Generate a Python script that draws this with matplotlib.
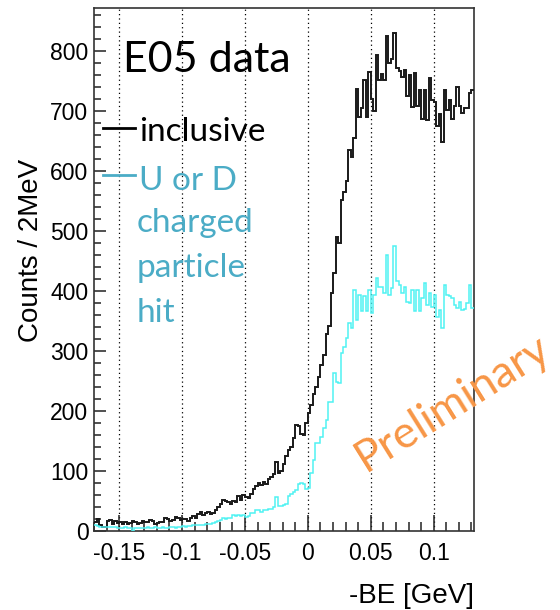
import numpy as np
import matplotlib
matplotlib.use("Agg")
import matplotlib.pyplot as plt
from matplotlib.lines import Line2D
from matplotlib.ticker import MultipleLocator

# 2 MeV bins in -BE, starting at -0.17 GeV
bin_lo = -0.17
bin_w = 0.002

inclusive = [14, 19, 10, 7, 6, 17, 18, 11, 16, 13, 14, 12, 15, 11, 13, 16, 14, 12, 13, 17,
             15, 14, 18, 17, 11, 13, 15, 14, 21, 19, 17, 18, 23, 22, 18,
             19, 20, 17, 22, 24, 22, 28, 31, 26, 30, 32, 28, 30, 34, 40, 45, 52, 50, 48, 44,
             50, 48, 58, 52, 60,
             57, 54, 62, 70, 74, 80, 76, 82, 78, 86, 90, 94, 115, 96, 100, 112, 125, 135, 140, 155,
             176, 174, 162, 160, 179,
             196, 210, 229, 240, 257, 277, 293, 329, 341, 396, 430, 491, 480, 552, 566, 583, 636,
             624, 655, 738, 691,
             705, 753, 691, 765, 720, 700, 794, 753, 762, 753, 826, 780, 788, 831, 772, 768, 757,
             769, 726, 760, 707, 764, 709, 736, 688, 736, 686, 755, 719, 716, 675, 695, 649, 736,
             703, 719, 687, 709, 741, 709, 698, 706, 706, 731, 736]

charged = [9, 8, 7, 6, 7, 6, 6, 7, 6, 5, 5, 5, 6, 5, 5, 0, 5, 5, 4, 5,
           5, 6, 5, 5, 6, 5, 4, 6, 5, 5, 7, 6, 5, 6, 7, 8, 7, 8, 8, 9,
           9, 10, 9, 10, 11, 12, 11, 13, 14, 16, 18, 21, 20, 22, 21, 26, 25, 27, 24, 27,
           23, 25, 29, 30, 35, 35, 32, 35, 35, 36, 37, 40, 57, 41, 41, 43, 45, 58, 62, 65,
           68, 78, 80, 78, 70, 72,
           96, 118, 146, 146, 157, 171, 185, 215, 215, 263, 249, 246, 296, 307, 321, 346, 338,
           402, 352, 393, 366, 391, 366, 402, 363, 393, 421, 407, 407, 396,
           460, 393, 405, 475, 416, 410, 396, 407, 382, 380, 402, 366, 402, 366, 388, 414, 377,
           396, 374, 393, 357, 368, 338, 410, 393, 391, 388, 377, 371, 382, 368, 370, 380, 410,
           371]

edges = bin_lo + bin_w * np.arange(len(inclusive) + 1)

W, H = 560, 610
plt.rcParams['axes.unicode_minus'] = False
plt.rcParams['font.family'] = ['Liberation Sans', 'DejaVu Sans']

fig = plt.figure(figsize=(W / 100, H / 100), dpi=100)
ax = fig.add_axes([94 / W, 1 - 530.7 / H, (474 - 94) / W, (530.7 - 8.3) / H])

ax.stairs(inclusive, edges, baseline=None, color='#1a1a1a', linewidth=1.4, zorder=3)
ax.stairs(charged, edges, baseline=None, color='#4ff2f2', linewidth=1.1, zorder=3)

ax.set_xlim(bin_lo, edges[-1])
ax.set_ylim(0, 872)

ax.xaxis.set_major_locator(MultipleLocator(0.05))
ax.xaxis.set_minor_locator(MultipleLocator(0.01))
ax.yaxis.set_major_locator(MultipleLocator(100))
ax.yaxis.set_minor_locator(MultipleLocator(20))
ax.xaxis.set_major_formatter(plt.FuncFormatter(lambda v, p: '%g' % round(v, 3)))

ax.tick_params(axis='both', which='both', direction='in', colors='#222222',
               width=1.1, labelsize=16.5, labelcolor='black')
ax.tick_params(axis='x', which='major', length=11.3, pad=8)
ax.tick_params(axis='x', which='minor', length=6.5)
ax.tick_params(axis='y', which='major', length=8.6, pad=4)
ax.tick_params(axis='y', which='minor', length=4.8)

ax.grid(axis='x', which='major', linestyle=(0, (1, 2.5)), color='black', linewidth=0.9)
for s in ax.spines.values():
    s.set_color('#333333')
    s.set_linewidth(1.2)

fig.text(474 / W, 1 - 603 / H, '-BE [GeV]', fontsize=20, ha='right', va='baseline')
fig.text(31 / W, 1 - 250 / H, 'Counts / 2MeV', fontsize=20, rotation=90,
         ha='center', va='center')

# annotations
ann = ['Lato', 'DejaVu Sans']
teal = '#4bacc6'
fig.text(123 / W, 1 - 71.7 / H, 'E05 data', fontsize=31, family=ann, va='baseline')

fig.add_artist(Line2D([103 / W, 135 / W], [1 - 127.7 / H] * 2, color='black', lw=2))
fig.text(139 / W, 1 - 140.7 / H, 'inclusive', fontsize=24, family=ann, va='baseline')

fig.add_artist(Line2D([103 / W, 135 / W], [1 - 175 / H] * 2, color=teal, lw=2))
fig.text(139 / W, 1 - 190 / H, 'U or D', fontsize=24, family=ann, color=teal, va='baseline')
for txt, yb in [('charged', 231.7), ('particle', 276.7), ('hit', 321.7)]:
    fig.text(136.5 / W, 1 - yb / H, txt, fontsize=24, family=ann, color=teal, va='baseline')

fig.text(366 / W, 1 - 472 / H, 'Preliminary', fontsize=32, family=ann, color='#f79646',
         rotation=32, rotation_mode='anchor', ha='left', va='baseline')

fig.savefig('out.png', dpi=100)
